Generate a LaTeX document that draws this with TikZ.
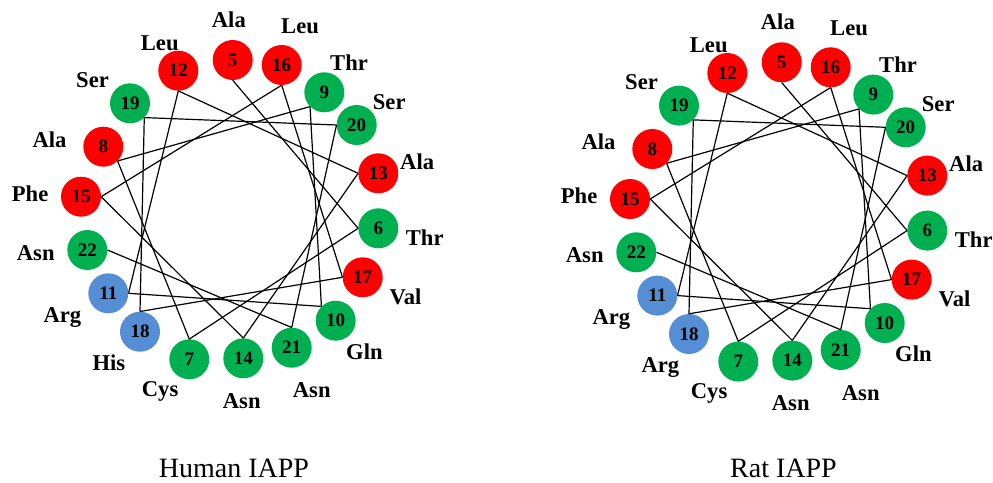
\documentclass[tikz,border=0pt]{standalone}
\usepackage{fontspec}
\setmainfont{Liberation Serif}
\definecolor{hydrophobic}{HTML}{FF0000}
\definecolor{polar}{HTML}{00B050}
\definecolor{basic}{HTML}{558ED5}
\tikzset{
  res/.style={circle, minimum size=40pt, inner sep=0pt,
    font=\fontsize{19}{19}\selectfont\bfseries},
  hphob/.style={res, fill=hydrophobic},
  pol/.style={res, fill=polar},
  bas/.style={res, fill=basic},
  aa/.style={anchor=west, inner sep=0pt, text height=15pt, text depth=0pt,
    font=\fontsize{22.6}{24}\selectfont\bfseries},
  bond/.style={draw=black, line width=1.2pt},
  title/.style={anchor=base, inner sep=0pt, font=\fontsize{28}{30}\selectfont},
}

% One helical wheel of residues 5-22; #1 is the residue name at position 18
\newcommand\helwheel[1]{%
  \node[hphob] (n5)  at (232.7,60)    {5};
  \node[pol]   (n6)  at (378.3,228.3) {6};
  \node[pol]   (n7)  at (189.3,359.3) {7};
  \node[hphob] (n8)  at (103.3,146.7) {8};
  \node[pol]   (n9)  at (324.3,92.3)  {9};
  \node[pol]   (n10) at (335.7,320.7) {10};
  \node[bas]   (n11) at (108.3,293.3) {11};
  \node[hphob] (n12) at (178.3,70.7)  {12};
  \node[hphob] (n13) at (378.3,173.3) {13};
  \node[pol]   (n14) at (243.3,358.3) {14};
  \node[hphob] (n15) at (81,196.7)    {15};
  \node[hphob] (n16) at (281.7,65)    {16};
  \node[hphob] (n17) at (362.7,277.3) {17};
  \node[bas]   (n18) at (140,331.7)   {18};
  \node[pol]   (n19) at (130,103.3)   {19};
  \node[pol]   (n20) at (356.7,125)   {20};
  \node[pol]   (n21) at (291.7,347.7) {21};
  \node[pol]   (n22) at (87.3,250)    {22};
  % residue names
  \node[aa] (l5)  at (211.7,20)    {Ala};
  \node[aa] (l6)  at (405.7,237.5) {Thr};
  \node[aa] (l7)  at (141.7,389)   {Cys};
  \node[aa] (l8)  at (32.3,140)    {Ala};
  \node[aa] (l9)  at (330,62.8)    {Thr};
  \node[aa] (l10) at (346,351.5)   {Gln};
  \node[aa] (l11) at (43.3,314.5)  {Arg};
  \node[aa] (l12) at (140.7,42.5)  {Leu};
  \node[aa] (l13) at (400,162)     {Ala};
  \node[aa] (l14) at (222.7,400.8) {Asn};
  \node[aa] (l15) at (11.7,194)    {Phe};
  \node[aa] (l16) at (281,25.8)    {Leu};
  \node[aa] (l17) at (389.3,296.8) {Val};
  \node[aa] (l18) at (92.3,362.5)  {#1};
  \node[aa] (l19) at (76,80)       {Ser};
  \node[aa] (l20) at (372.7,101.7) {Ser};
  \node[aa] (l21) at (292.7,390.3) {Asn};
  \node[aa] (l22) at (16.7,253)    {Asn};
  % backbone from residue to residue
  \draw[bond] (n5.south) -- (n6.west);
  \draw[bond] (n6.west) -- (n7.north);
  \draw[bond] (n7.north) -- (n8.south east);
  \draw[bond] (n8.south east) -- (n9.south west);
  \draw[bond] (n9.south west) -- (n10.north west);
  \draw[bond] (n10.north west) -- (n11.east);
  \draw[bond] (n11.east) -- (n12.south);
  \draw[bond] (n12.south) -- (n13.west);
  \draw[bond] (n13.west) -- (n14.north);
  \draw[bond] (n14.north) -- (n15.east);
  \draw[bond] (n15.east) -- (n16.south);
  \draw[bond] (n16.south) -- (n17.west);
  \draw[bond] (n17.west) -- (n18.north);
  \draw[bond] (n18.north) -- (n19.south east);
  \draw[bond] (n19.south east) -- (n20.west);
  \draw[bond] (n20.west) -- (n21.north);
  \draw[bond] (n21.north) -- (n22.east);
}

\begin{document}
\begin{tikzpicture}[x=1pt,y=-1pt]
\useasboundingbox (0,0) rectangle (993,482);
\begin{scope}[name prefix=h-]
  \helwheel{His}
\end{scope}
\begin{scope}[name prefix=r-, xshift=549pt, yshift=-2.3pt]
  \helwheel{Arg}
\end{scope}
\node[title] (htitle) at (234,477.8) {Human IAPP};
\node[title] (rtitle) at (783.5,477.8) {Rat IAPP};
\end{tikzpicture}
\end{document}
